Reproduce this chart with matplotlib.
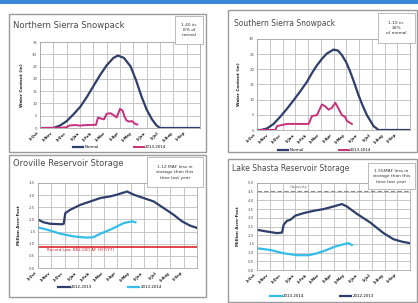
import matplotlib
matplotlib.use("Agg")
import matplotlib.pyplot as plt
from matplotlib.patches import Rectangle

W, H = 418, 303

month_labels = ['1-Oct', '1-Nov', '1-Dec', '1-Jan', '1-Feb', '1-Mar',
                '1-Apr', '1-May', '1-Jun', '1-Jul', '1-Aug', '1-Sep']

# Northern Sierra snowpack (x = months since Oct 1, y = inches)
ns_normal_x = [0, 1.0, 1.5, 2.0, 2.5, 3.0, 3.5, 4.0, 4.5, 5.0, 5.5, 5.85, 6.3, 6.8, 7.2, 7.6, 8.0, 8.4, 8.75, 9.0, 12]
ns_normal_y = [0, 0, 1.0, 2.8, 5.5, 8.5, 12.5, 17, 21.5, 25.5, 28.5, 29.5, 28.5, 25, 19.5, 13, 7.5, 3.5, 1.0, 0, 0]
ns_wy_x = [0, 1.5, 2.0, 2.2, 2.6, 3.0, 3.5, 4.2, 4.35, 4.6, 4.8, 5.0, 5.3, 5.5, 5.75, 6.0, 6.2, 6.35, 6.5, 6.7, 6.9, 7.1, 7.3]
ns_wy_y = [0, 0.1, 0.3, 1.0, 1.2, 1.0, 1.2, 1.3, 4.2, 3.8, 3.5, 5.8, 6.0, 5.3, 4.3, 7.8, 7.0, 4.5, 3.0, 2.6, 2.8, 1.8, 1.4]

# Southern Sierra snowpack
ss_normal_x = [0, 0.3, 0.78, 1.3, 1.83, 2.35, 2.87, 3.4, 3.92, 4.3, 4.7, 5.1, 5.48, 6.0, 6.35, 6.66, 7.0, 7.31, 7.65, 7.96, 8.3, 8.62, 9.14, 9.53, 12]
ss_normal_y = [0, 0, 0.5, 2.0, 4.4, 7.0, 9.8, 12.8, 15.9, 18.7, 21.3, 23.5, 25.2, 26.5, 26.2, 24.7, 22.3, 19.2, 15.3, 11.5, 7.9, 4.9, 1.3, 0, 0]
ss_wy_x = [0, 1.44, 1.57, 2.35, 4.05, 4.31, 4.7, 5.09, 5.35, 5.61, 5.87, 6.14, 6.4, 6.66, 6.92, 7.05, 7.44]
ss_wy_y = [0, 0, 1.3, 2.0, 2.0, 4.6, 4.9, 8.4, 7.8, 6.7, 7.3, 9.0, 7.0, 4.9, 4.3, 3.0, 2.0]

# Oroville storage (million acre-feet)
oro_prev_x = [0, 0.43, 0.93, 1.81, 1.94, 2.06, 2.44, 3.19, 3.95, 4.7, 5.46, 5.96, 6.72, 7.22, 7.97, 8.73, 9.48, 10.24, 10.87, 11.5, 12]
oro_prev_y = [1.99, 1.88, 1.82, 1.80, 1.82, 2.26, 2.40, 2.60, 2.74, 2.88, 2.95, 3.02, 3.15, 3.02, 2.88, 2.74, 2.47, 2.19, 1.92, 1.74, 1.65]
oro_cur_x = [0, 0.68, 1.69, 2.69, 3.70, 4.20, 4.70, 5.46, 5.96, 6.47, 7.09, 7.35]
oro_cur_y = [1.67, 1.58, 1.41, 1.30, 1.25, 1.27, 1.41, 1.58, 1.71, 1.85, 1.92, 1.88]
oro_record_low = 0.882

# Shasta storage (million acre-feet)
sha_prev_x = [0, 0.78, 1.57, 1.96, 2.09, 2.35, 2.61, 3.0, 3.66, 4.44, 5.22, 6.0, 6.66, 7.05, 7.83, 8.88, 9.92, 10.7, 11.36, 12]
sha_prev_y = [2.31, 2.21, 2.12, 2.15, 2.60, 2.83, 2.88, 3.12, 3.27, 3.40, 3.50, 3.65, 3.79, 3.65, 3.23, 2.73, 2.12, 1.77, 1.63, 1.54]
sha_cur_x = [0, 1.04, 2.09, 3.13, 4.05, 4.70, 5.35, 6.14, 6.79, 7.18, 7.44]
sha_cur_y = [1.25, 1.15, 0.96, 0.85, 0.85, 0.96, 1.12, 1.35, 1.48, 1.54, 1.44]
sha_capacity = 4.552

NAVY = '#2f3e6b'
PINK = '#c8307a'
CYAN = '#35bde9'
RED = '#d8262b'
GRID = '#bdbdbd'

fig = plt.figure(figsize=(W / 100, H / 100), dpi=100)
fig.patch.set_facecolor('white')


def frac_rect(x0, x1, ytop, ybot):
    return [x0 / W, 1 - ybot / H, (x1 - x0) / W, (ybot - ytop) / H]


def panel(x0, x1, ytop, ybot):
    fig.patches.append(Rectangle((x0 / W, 1 - ybot / H), (x1 - x0) / W, (ybot - ytop) / H,
                                 transform=fig.transFigure, facecolor='white',
                                 edgecolor='#9a9a9a', lw=1.0, zorder=-5))


def info_box(x0, x1, ytop, ybot, text):
    fig.patches.append(Rectangle((x0 / W, 1 - ybot / H), (x1 - x0) / W, (ybot - ytop) / H,
                                 transform=fig.transFigure, facecolor='white',
                                 edgecolor='#b0b0b0', lw=0.6, zorder=3))
    fig.text((x0 + x1) / 2 / W, 1 - (ytop + ybot) / 2 / H, text, ha='center', va='center',
             fontsize=3.2, color='#333333', linespacing=1.5, zorder=4)


def style_axes(ax, ymax, ystep, fmt, ylabel):
    ax.set_xlim(0, 12)
    ax.set_ylim(0, ymax)
    ax.set_xticks(range(13))
    ax.set_xticklabels(month_labels + [''], rotation=45, ha='right', fontsize=2.8,
                       color='#222222', fontweight='bold')
    n = int(round(ymax / ystep))
    ticks = [i * ystep for i in range(n + 1)]
    ax.set_yticks(ticks)
    ax.set_yticklabels([fmt.format(t) for t in ticks], fontsize=2.8, color='#555555')
    ax.grid(True, color=GRID, lw=0.6)
    ax.tick_params(length=0, pad=2)
    for s in ax.spines.values():
        s.set_color('#a8a8a8')
        s.set_linewidth(0.6)
    ax.set_ylabel(ylabel, fontsize=3, color='#222222', labelpad=6, fontweight='bold')
    ax.set_axisbelow(True)
    ax.patch.set_alpha(0)


# Top blue bar
fig.patches.append(Rectangle((0, 1 - 4 / H), 1, 4 / H, transform=fig.transFigure,
                             facecolor='#3a88d6', edgecolor='none', zorder=-5))

# Panels
panel(9, 206, 14, 152)
panel(228, 417, 10, 152)
panel(9, 206, 155, 297)
panel(228, 417, 159, 302)

# Titles
fig.text(13 / W, 1 - 25 / H, 'Northern Sierra Snowpack', fontsize=6.1, color='#4a4a4a', va='center')
fig.text(234 / W, 1 - 24 / H, 'Southern Sierra Snowpack', fontsize=5.5, color='#4a4a4a', va='center')
fig.text(13 / W, 1 - 164 / H, 'Oroville Reservoir Storage', fontsize=6.0, color='#4a4a4a', va='center')
fig.text(232 / W, 1 - 168 / H, 'Lake Shasta Reservoir Storage', fontsize=5.5, color='#4a4a4a', va='center')

# Info boxes
info_box(175, 203, 16, 44, '1.40 in.\n8% of\nnormal')
info_box(378, 415, 13, 43, '1.10 in.\n20%\nof normal')
info_box(147, 203, 157, 187, '1.12 MAF less in\nstorage than this\ntime last year')
info_box(368, 415, 163, 189, '1.55MAF less in\nstorage than this\ntime last year')

# Northern Sierra
ax1 = fig.add_axes(frac_rect(40, 200, 42, 128))
style_axes(ax1, 35, 5, '{:g}', 'Water Content (in)')
l1, = ax1.plot(ns_normal_x, ns_normal_y, color=NAVY, lw=1.6)
l2, = ax1.plot(ns_wy_x, ns_wy_y, color=PINK, lw=1.4)
fig.legend([l1, l2], ['Normal', '2013-2014'], loc='center', bbox_to_anchor=(120 / W, 1 - 147 / H),
           ncol=2, fontsize=2.8, frameon=False, handlelength=2.5, columnspacing=9, handletextpad=0.4)

# Southern Sierra
ax2 = fig.add_axes(frac_rect(257, 410, 39, 130))
style_axes(ax2, 30, 5, '{:g}', 'Water Content (in)')
l3, = ax2.plot(ss_normal_x, ss_normal_y, color=NAVY, lw=1.6)
l4, = ax2.plot(ss_wy_x, ss_wy_y, color=PINK, lw=1.4)
fig.legend([l3, l4], ['Normal', '2013-2014'], loc='center', bbox_to_anchor=(325 / W, 1 - 150 / H),
           ncol=2, fontsize=2.8, frameon=False, handlelength=2.5, columnspacing=9, handletextpad=0.4)

# Oroville
ax3 = fig.add_axes(frac_rect(38, 197, 183, 268))
style_axes(ax3, 3.5, 0.5, '{:.1f}', 'Million Acre-Feet')
l5, = ax3.plot(oro_prev_x, oro_prev_y, color=NAVY, lw=1.6)
l6, = ax3.plot(oro_cur_x, oro_cur_y, color=CYAN, lw=1.6)
ax3.axhline(oro_record_low, color=RED, lw=1.2)
ax3.text(0.7, oro_record_low - 0.07, 'Record Low: 882,000 AF (9/7/77)', color=RED,
         fontsize=3.0, va='top')
fig.legend([l5, l6], ['2012-2013', '2013-2014'], loc='center', bbox_to_anchor=(110 / W, 1 - 287 / H),
           ncol=2, fontsize=2.8, frameon=False, handlelength=3, columnspacing=9, handletextpad=0.4)

# Shasta
ax4 = fig.add_axes(frac_rect(257, 410, 183, 270))
style_axes(ax4, 5.0, 0.5, '{:.1f}', 'Million Acre-Feet')
l7, = ax4.plot(sha_prev_x, sha_prev_y, color=NAVY, lw=1.6)
l8, = ax4.plot(sha_cur_x, sha_cur_y, color=CYAN, lw=1.6)
ax4.axhline(sha_capacity, color='#8a8a8a', lw=0.8, ls=(0, (4, 2)))
ax4.text(2.6, sha_capacity + 0.08, 'Capacity', color='#777777', fontsize=3.0, va='bottom')
fig.legend([l8, l7], ['2013-2014', '2012-2013'], loc='center', bbox_to_anchor=(322 / W, 1 - 296 / H),
           ncol=2, fontsize=2.8, frameon=False, handlelength=3, columnspacing=9, handletextpad=0.4)

fig.savefig('out.png', dpi=100, facecolor='white')
